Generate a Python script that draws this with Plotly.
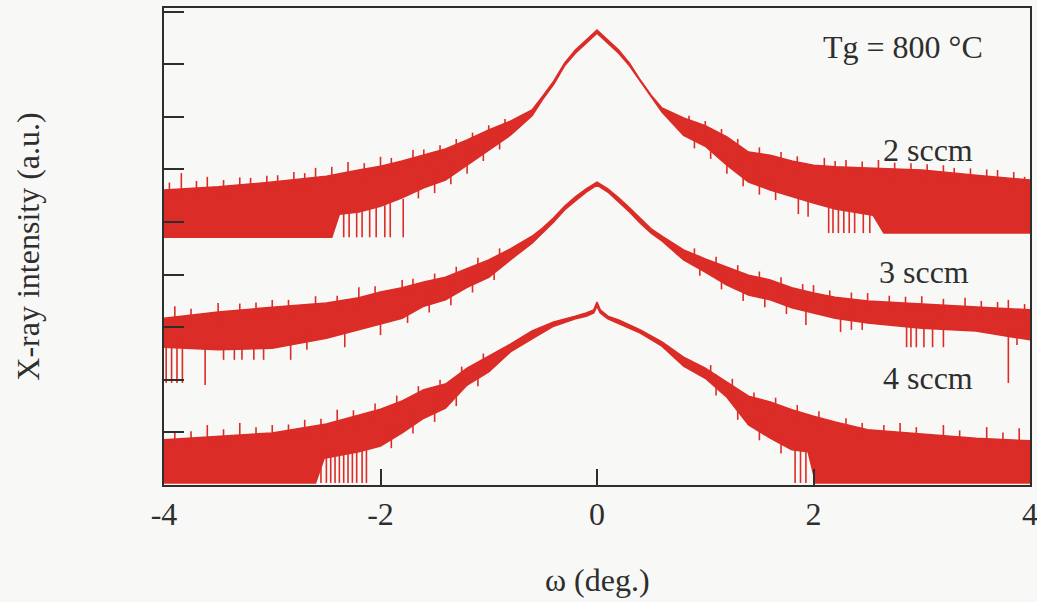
import plotly.graph_objects as go

# ---------------- data (intensity in a.u.) ----------------
x_ticks = [-4, -2, 0, 2, 4]
x_tick_labels = ["-4", "-2", "0", "2", "4"]
y_ticks = [0, 1, 2, 3, 4, 5, 6, 7, 8, 9]

# 2 sccm : upper / lower edge of the noisy trace
c2_up_x = [-4, -3.5, -3, -2.5, -2.2, -2, -1.8, -1.6, -1.4, -1.2, -1, -0.8, -0.6, -0.5, -0.4, -0.3, -0.2, -0.1, 0,
           0.1, 0.2, 0.3, 0.4, 0.5, 0.6, 0.8, 1.0, 1.2, 1.4, 1.6, 1.8, 2.0, 2.2, 2.5, 3.0, 3.5, 4.0]
c2_up_y = [5.61, 5.67, 5.76, 5.87, 5.99, 6.06, 6.16, 6.27, 6.39, 6.56, 6.75, 6.92, 7.13, 7.40, 7.68, 8.02, 8.27, 8.46, 8.65,
           8.46, 8.27, 8.02, 7.70, 7.41, 7.17, 6.98, 6.83, 6.62, 6.33, 6.27, 6.16, 6.08, 6.05, 6.03, 5.99, 5.89, 5.80]
c2_lo_x = [-4, -3, -2.45, -2.38, -2.2, -2.0, -1.8, -1.6, -1.4, -1.2, -1.0, -0.8, -0.6, -0.5, -0.4, -0.3, -0.2, -0.1, 0,
           0.1, 0.2, 0.3, 0.4, 0.5, 0.6, 0.8, 1.0, 1.2, 1.4, 1.6, 1.8, 2.0, 2.2, 2.55, 2.65, 3.0, 4.0]
c2_lo_y = [4.71, 4.71, 4.71, 5.15, 5.19, 5.30, 5.46, 5.65, 5.80, 6.08, 6.37, 6.65, 7.02, 7.34, 7.62, 7.97, 8.21, 8.40, 8.59,
           8.40, 8.21, 7.97, 7.66, 7.38, 7.09, 6.65, 6.44, 6.08, 5.76, 5.61, 5.49, 5.36, 5.25, 5.13, 4.79, 4.79, 4.79]
c2_spike_x = [-2.34, -2.29, -2.22, -2.17, -2.10, -2.04, -1.96, -1.91, -1.79,
              1.86, 1.95, 2.14, 2.18, 2.23, 2.28, 2.33, 2.38, 2.46, 2.52,
              -3.84, -3.6, -3.2, -2.95, -2.6, -2.3, -2.0, -1.7,
              2.1, 2.3, 2.6, 2.9, 3.3, 3.7, 3.95,
              -3.95, -3.7, -3.45, -3.3, -3.05, -2.8, -2.7, -2.45, -2.15, -1.9, -1.6, -1.45, -1.3, -1.15, -1.0, -0.85,
              0.85, 1.0, 1.15, 1.3, 1.5, 1.7, 1.85, 2.2, 2.45, 2.75, 3.05, 3.2, 3.45, 3.6, 3.85,
              -1.65, -1.5, -1.35, -1.2, -1.05, -0.9, 0.9, 1.05, 1.2, 1.35, 1.5, 1.65]
c2_spike_lo = [4.71, 4.71, 4.71, 4.71, 4.71, 4.71, 4.71, 4.71, 4.71,
               5.15, 5.10, 4.79, 4.79, 4.79, 4.79, 4.79, 4.79, 4.79, 4.79,
               5.5, 5.55, 5.6, 5.7, 5.8, 5.9, 6.0, 6.1,
               6.0, 6.0, 5.9, 5.9, 5.8, 5.8, 5.7,
               5.45, 5.48, 5.5, 5.55, 5.58, 5.65, 5.63, 5.75, 5.82, 5.92, 6.08, 6.16, 6.28, 6.4, 6.54, 6.66,
               6.72, 6.62, 6.47, 6.28, 6.12, 6.03, 5.95, 5.86, 5.85, 5.83, 5.8, 5.78, 5.72, 5.7, 5.65,
               5.45, 5.55, 5.72, 5.92, 6.16, 6.38, 6.40, 6.20, 5.92, 5.68, 5.52, 5.42]
c2_spike_hi = [5.20, 5.20, 5.22, 5.24, 5.26, 5.28, 5.32, 5.36, 5.44,
               5.49, 5.42, 5.31, 5.29, 5.27, 5.26, 5.24, 5.22, 5.18, 5.16,
               5.93, 5.86, 5.84, 5.89, 6.03, 6.14, 6.24, 6.37,
               6.22, 6.18, 6.18, 6.12, 6.03, 5.99, 5.86,
               5.75, 5.78, 5.80, 5.85, 5.88, 5.95, 5.93, 6.05, 6.12, 6.22, 6.38, 6.46, 6.58, 6.70, 6.84, 6.96,
               7.02, 6.92, 6.77, 6.58, 6.42, 6.33, 6.25, 6.16, 6.15, 6.13, 6.10, 6.08, 6.02, 6.00, 5.95,
               5.85, 5.97, 6.12, 6.33, 6.55, 6.76, 6.80, 6.60, 6.33, 6.09, 5.93, 5.83]

# 3 sccm
c3_up_x = [-4, -3.5, -3, -2.5, -2.2, -2, -1.8, -1.6, -1.4, -1.2, -1, -0.8, -0.6, -0.5, -0.4, -0.3, -0.2, -0.1, 0,
           0.1, 0.2, 0.3, 0.4, 0.5, 0.6, 0.8, 1.0, 1.2, 1.4, 1.6, 1.8, 2.0, 2.2, 2.5, 3.0, 3.5, 4.0]
c3_up_y = [3.17, 3.29, 3.38, 3.46, 3.56, 3.67, 3.75, 3.86, 3.95, 4.11, 4.28, 4.49, 4.73, 4.89, 5.08, 5.30, 5.48, 5.63, 5.76,
           5.63, 5.46, 5.27, 5.06, 4.87, 4.73, 4.47, 4.30, 4.14, 3.99, 3.90, 3.75, 3.65, 3.57, 3.50, 3.44, 3.38, 3.33]
c3_lo_x = [-4, -3.5, -3, -2.5, -2.2, -2, -1.8, -1.6, -1.4, -1.2, -1, -0.8, -0.6, -0.5, -0.4, -0.3, -0.2, -0.1, 0,
           0.1, 0.2, 0.3, 0.4, 0.5, 0.6, 0.8, 1.0, 1.2, 1.4, 1.6, 1.8, 2.0, 2.2, 2.5, 3.0, 3.5, 4.0]
c3_lo_y = [2.62, 2.57, 2.60, 2.79, 2.95, 3.06, 3.17, 3.40, 3.52, 3.76, 3.95, 4.28, 4.60, 4.79, 5.00, 5.23, 5.40, 5.57, 5.70,
           5.57, 5.38, 5.19, 4.98, 4.79, 4.64, 4.28, 4.05, 3.80, 3.61, 3.52, 3.37, 3.27, 3.17, 3.08, 2.98, 2.93, 2.76]
c3_spike_x = [-3.98, -3.93, -3.88, -3.83, -3.62, -3.45, -3.35, -3.28, -3.17, -3.08, -2.83, -2.68, -2.33, -2.0,
              1.93, 2.25, 2.35, 2.45, 2.86, 2.9, 2.95, 3.02, 3.1, 3.2, 3.8, 3.88,
              -3.9, -3.5, -3.0, -2.6, -2.2, -1.8, 2.0, 2.5, 3.0, 3.4, 3.8,
              -3.75, -3.3, -3.15, -2.85, -2.4, -2.05, -1.7, -1.5, -1.3, -1.1, -0.9,
              0.9, 1.1, 1.3, 1.5, 1.7, 1.9, 2.15, 2.35, 2.7, 2.85, 3.2, 3.55, 3.7, 3.95,
              -1.75, -1.55, -1.35, -1.15, -0.95, 0.95, 1.15, 1.35, 1.55, 1.75]
c3_spike_lo = [1.94, 1.94, 1.94, 1.94, 1.90, 2.38, 2.38, 2.38, 2.38, 2.38, 2.38, 2.57, 2.62, 2.85,
               3.04, 2.91, 2.95, 2.95, 2.62, 2.62, 2.62, 2.62, 2.62, 2.62, 1.94, 2.66,
               3.0, 3.1, 3.2, 3.3, 3.4, 3.6, 3.5, 3.4, 3.3, 3.2, 3.2,
               3.05, 3.15, 3.17, 3.22, 3.30, 3.48, 3.62, 3.72, 3.85, 4.02, 4.20,
               4.20, 4.04, 3.88, 3.76, 3.65, 3.52, 3.40, 3.36, 3.30, 3.28, 3.24, 3.20, 3.18, 3.14,
               3.08, 3.28, 3.42, 3.66, 3.90, 3.98, 3.72, 3.50, 3.38, 3.25]
c3_spike_hi = [2.70, 2.70, 2.70, 2.70, 2.70, 2.70, 2.70, 2.70, 2.70, 2.70, 2.85, 2.90, 3.00, 3.15,
               3.40, 3.20, 3.18, 3.15, 3.05, 3.05, 3.04, 3.03, 3.02, 3.01, 2.95, 2.90,
               3.40, 3.46, 3.52, 3.59, 3.76, 3.90, 3.80, 3.65, 3.59, 3.56, 3.52,
               3.35, 3.45, 3.47, 3.52, 3.60, 3.78, 3.92, 4.02, 4.15, 4.32, 4.50,
               4.50, 4.34, 4.18, 4.06, 3.95, 3.82, 3.70, 3.66, 3.60, 3.58, 3.54, 3.50, 3.48, 3.44,
               3.48, 3.68, 3.83, 4.06, 4.28, 4.36, 4.11, 3.91, 3.79, 3.66]

# 4 sccm
c4_up_x = [-4, -3.5, -3, -2.5, -2.2, -2, -1.8, -1.6, -1.4, -1.2, -1, -0.8, -0.6, -0.4, -0.2, -0.1, -0.03, 0,
           0.03, 0.1, 0.2, 0.4, 0.6, 0.8, 1.0, 1.2, 1.4, 1.6, 1.8, 2.0, 2.2, 2.5, 3.0, 3.5, 4.0]
c4_up_y = [0.86, 0.93, 0.99, 1.16, 1.33, 1.44, 1.60, 1.81, 1.92, 2.22, 2.45, 2.68, 2.93, 3.10, 3.21, 3.27, 3.33, 3.48,
           3.33, 3.21, 3.14, 2.95, 2.72, 2.43, 2.22, 1.96, 1.69, 1.58, 1.43, 1.31, 1.20, 1.05, 0.97, 0.89, 0.84]
c4_lo_x = [-4, -2.6, -2.52, -2.2, -2.0, -1.8, -1.6, -1.4, -1.2, -1.0, -0.8, -0.6, -0.4, -0.2, -0.1, -0.03, 0,
           0.03, 0.1, 0.2, 0.4, 0.6, 0.8, 1.0, 1.2, 1.4, 1.6, 1.8, 1.95, 2.02, 3.0, 4.0]
c4_lo_y = [0.04, 0.04, 0.51, 0.63, 0.74, 0.99, 1.27, 1.46, 1.90, 2.15, 2.53, 2.78, 3.02, 3.16, 3.21, 3.27, 3.40,
           3.27, 3.16, 3.08, 2.89, 2.64, 2.26, 2.03, 1.67, 1.14, 0.89, 0.67, 0.63, 0.04, 0.04, 0.04]
c4_spike_x = [-2.55, -2.5, -2.46, -2.42, -2.38, -2.34, -2.3, -2.26, -2.22, -2.17, -2.13, 1.83, 1.88, 1.93,
              -3.9, -3.6, -3.3, -3.0, -2.7, -2.4, 2.3, 2.8, 3.2, 3.6, 3.9,
              -3.75, -3.45, -3.15, -2.85, -2.55, -2.25, -2.05, -1.85, -1.65, -1.45, -1.25, -1.05,
              1.05, 1.25, 1.45, 1.65, 1.85, 2.05, 2.45, 2.65, 2.95, 3.35, 3.75,
              -1.9, -1.7, -1.5, -1.3, -1.1, 1.1, 1.3, 1.5, 1.7]
c4_spike_lo = [0.04, 0.04, 0.04, 0.04, 0.04, 0.04, 0.04, 0.04, 0.04, 0.04, 0.04, 0.04, 0.04, 0.04,
               0.7, 0.75, 0.8, 0.85, 0.9, 1.1, 1.0, 0.9, 0.85, 0.8, 0.75,
               0.72, 0.76, 0.80, 0.85, 0.96, 1.12, 1.25, 1.40, 1.58, 1.70, 1.95, 2.20,
               1.98, 1.72, 1.46, 1.36, 1.22, 1.10, 0.88, 0.84, 0.80, 0.74, 0.70,
               0.70, 0.98, 1.20, 1.50, 1.88, 1.70, 1.24, 0.85, 0.60]
c4_spike_hi = [0.60, 0.60, 0.60, 0.62, 0.62, 0.63, 0.64, 0.65, 0.66, 0.68, 0.70, 0.75, 0.72, 0.70,
               1.01, 1.14, 1.18, 1.14, 1.24, 1.43, 1.27, 1.18, 1.14, 1.10, 1.08,
               1.02, 1.06, 1.10, 1.15, 1.26, 1.42, 1.55, 1.70, 1.88, 2.00, 2.25, 2.50,
               2.28, 2.02, 1.76, 1.66, 1.52, 1.40, 1.18, 1.14, 1.10, 1.04, 1.00,
               1.11, 1.38, 1.61, 1.93, 2.27, 2.10, 1.65, 1.26, 1.03]

labels = ["2 sccm", "3 sccm", "4 sccm"]
label_x = [3.06, 3.02, 3.06]
label_y = [6.37, 4.05, 2.03]

RED = "#db2c27"
INK = "#2e2e2e"
BG = "#f8f8f6"
FONT = "Liberation Serif, Times New Roman, serif"

curves = [
    (c2_up_x, c2_up_y, c2_lo_x, c2_lo_y, c2_spike_x, c2_spike_lo, c2_spike_hi),
    (c3_up_x, c3_up_y, c3_lo_x, c3_lo_y, c3_spike_x, c3_spike_lo, c3_spike_hi),
    (c4_up_x, c4_up_y, c4_lo_x, c4_lo_y, c4_spike_x, c4_spike_lo, c4_spike_hi),
]

fig = go.Figure()
for ux, uy, lx, ly, sx, slo, shi in curves:
    fig.add_trace(go.Scatter(
        x=list(ux) + list(lx)[::-1], y=list(uy) + list(ly)[::-1],
        mode="lines", fill="toself", fillcolor=RED,
        line=dict(color=RED, width=1.5), hoverinfo="skip"))
    xs, ys = [], []
    for xv, lo, hi in zip(sx, slo, shi):
        xs += [xv, xv, None]
        ys += [lo, hi, None]
    fig.add_trace(go.Scatter(x=xs, y=ys, mode="lines",
                             line=dict(color=RED, width=1.6), hoverinfo="skip"))

annotations = [
    dict(x=2.83, y=8.33, xref="x", yref="y", text="Tg = 800 °C", showarrow=False,
         xanchor="center", yanchor="middle", font=dict(size=32, color=INK, family=FONT)),
    dict(x=0.5, y=-0.199, xref="paper", yref="paper", text="ω (deg.)", showarrow=False,
         xanchor="center", yanchor="middle", font=dict(size=32, color=INK, family=FONT)),
    dict(x=-0.158, y=0.50, xref="paper", yref="paper", text="X-ray intensity (a.u.)", showarrow=False,
         xanchor="center", yanchor="middle", textangle=-90, font=dict(size=32, color=INK, family=FONT)),
]
for t, xv, yv in zip(labels, label_x, label_y):
    annotations.append(dict(x=xv, y=yv, xref="x", yref="y", text=t, showarrow=False,
                            xanchor="center", yanchor="middle",
                            font=dict(size=32, color=INK, family=FONT)))

fig.update_layout(
    width=1037, height=602,
    margin=dict(l=164, r=7, t=8, b=117, autoexpand=False),
    paper_bgcolor=BG, plot_bgcolor=BG,
    showlegend=False,
    font=dict(family=FONT, size=32, color=INK),
    annotations=annotations,
)
fig.update_xaxes(range=[-4, 4], tickvals=x_ticks, ticktext=x_tick_labels,
                 ticks="inside", ticklen=16, tickwidth=2, tickcolor=INK,
                 showline=True, linecolor=INK, linewidth=2, mirror=True,
                 showgrid=False, zeroline=False, automargin=False,
                 ticklabeloverflow="allow",
                 tickfont=dict(size=32, color=INK, family=FONT))
fig.update_yaxes(range=[0, 9.07], tickvals=y_ticks, showticklabels=False,
                 ticks="inside", ticklen=20, tickwidth=2, tickcolor=INK,
                 showline=True, linecolor=INK, linewidth=2, mirror=True,
                 showgrid=False, zeroline=False, automargin=False)

fig.write_html("out.html", config={"displayModeBar": False},
               post_script="document.body.style.margin='0px';document.body.style.overflow='hidden';")
